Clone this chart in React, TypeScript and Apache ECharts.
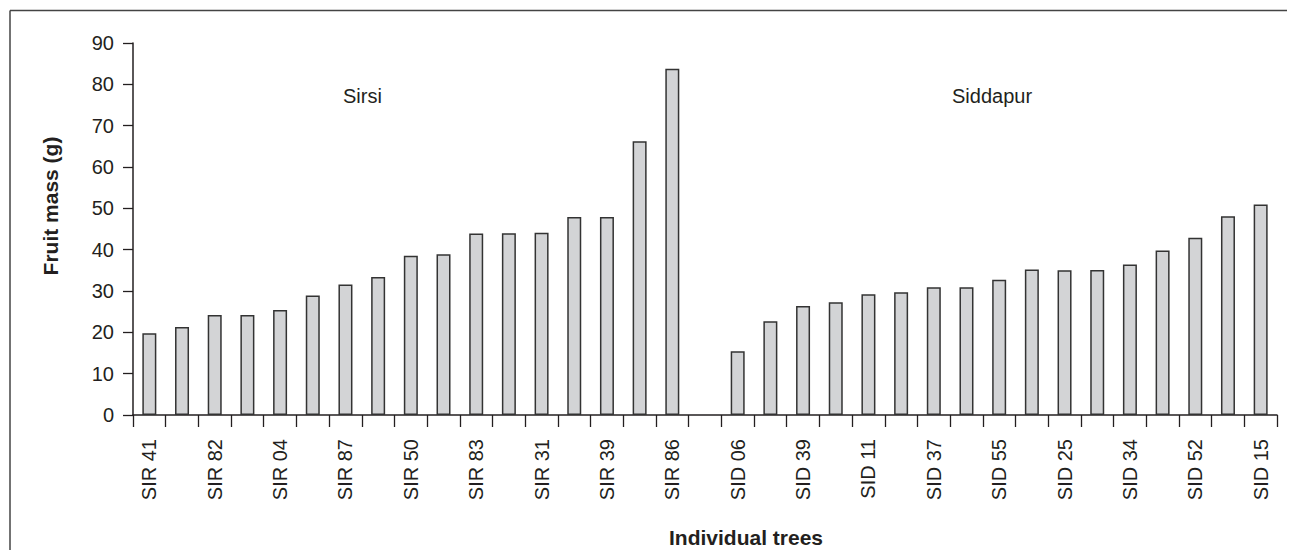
import React, { useEffect, useRef } from "react";
import * as echarts from "echarts";

const categories = [
  "SIR 41", "", "SIR 82", "", "SIR 04", "", "SIR 87", "", "SIR 50", "",
  "SIR 83", "", "SIR 31", "", "SIR 39", "", "SIR 86",
  "",
  "SID 06", "", "SID 39", "", "SID 11", "", "SID 37", "", "SID 55", "",
  "SID 25", "", "SID 34", "", "SID 52", "", "SID 15",
];

const sirsiValues = [19.8, 21.3, 24.2, 24.2, 25.4, 28.9, 31.6, 33.4, 38.5, 38.9, 43.9, 44.0, 44.1, 47.9, 47.9, 66.2, 83.8];
const siddapurValues = [15.4, 22.7, 26.4, 27.3, 29.2, 29.7, 30.9, 30.9, 32.7, 35.2, 35.0, 35.1, 36.4, 39.8, 42.9, 48.1, 50.9];

const groupLabels = ["Sirsi", "Siddapur"];
const yAxisTitle = "Fruit mass (g)";
const xAxisTitle = "Individual trees";

export default function App() {
  const ref = useRef<HTMLDivElement>(null);

  useEffect(() => {
    if (!ref.current) return;
    const chart = echarts.init(ref.current, undefined, { renderer: "svg" });
    const values: (number | null)[] = [...sirsiValues, null, ...siddapurValues];
    const ink = "#231f20";
    chart.setOption({
      animation: false,
      backgroundColor: "#ffffff",
      textStyle: { fontFamily: "Liberation Sans, Arial, sans-serif" },
      grid: { left: 125, right: 18, top: 35, bottom: 135, containLabel: false, outerBoundsMode: "none" },
      xAxis: {
        type: "category",
        data: categories,
        boundaryGap: true,
        name: xAxisTitle,
        nameLocation: "middle",
        nameGap: 112,
        nameTextStyle: { fontSize: 21, fontWeight: "bold", color: ink, padding: [0, 0, 0, 82] },
        axisLine: { show: true, lineStyle: { color: ink, width: 1.5 } },
        axisTick: { show: true, interval: 0, alignWithLabel: false, length: 12, lineStyle: { color: ink, width: 1.3 } },
        axisLabel: { interval: 0, rotate: 90, margin: 24, fontSize: 20, color: ink },
        splitLine: { show: false },
      },
      yAxis: {
        type: "value",
        min: 0,
        max: 90,
        interval: 10,
        name: yAxisTitle,
        nameLocation: "middle",
        nameGap: 72,
        nameTextStyle: { fontSize: 21, fontWeight: "bold", color: ink, padding: [0, 0, 0, 46] },
        axisLine: { show: true, lineStyle: { color: ink, width: 1.5 } },
        axisTick: { show: true, length: 10, lineStyle: { color: ink, width: 1.3 } },
        axisLabel: { margin: 19, fontSize: 20, color: ink },
        splitLine: { show: false },
      },
      series: [
        {
          type: "bar",
          data: values,
          barWidth: 14,
          itemStyle: { color: "#d3d4d6", borderColor: "#333333", borderWidth: 1.5 },
        },
      ],
      graphic: [
        { type: "line", shape: { x1: 2, y1: 2.5, x2: 1287, y2: 2.5 }, style: { stroke: "#444444", lineWidth: 1.5 } },
        { type: "line", shape: { x1: 2, y1: 2.5, x2: 2, y2: 542 }, style: { stroke: "#444444", lineWidth: 1.5 } },
        { type: "text", x: 335, y: 88, style: { text: groupLabels[0], fontSize: 20, fill: ink, verticalAlign: "middle", fontFamily: "Liberation Sans, Arial, sans-serif" } },
        { type: "text", x: 944, y: 88, style: { text: groupLabels[1], fontSize: 20, fill: ink, verticalAlign: "middle", fontFamily: "Liberation Sans, Arial, sans-serif" } },
      ],
    });
    return () => chart.dispose();
  }, []);

  return <div ref={ref} style={{ width: 1287, height: 542 }} />;
}
